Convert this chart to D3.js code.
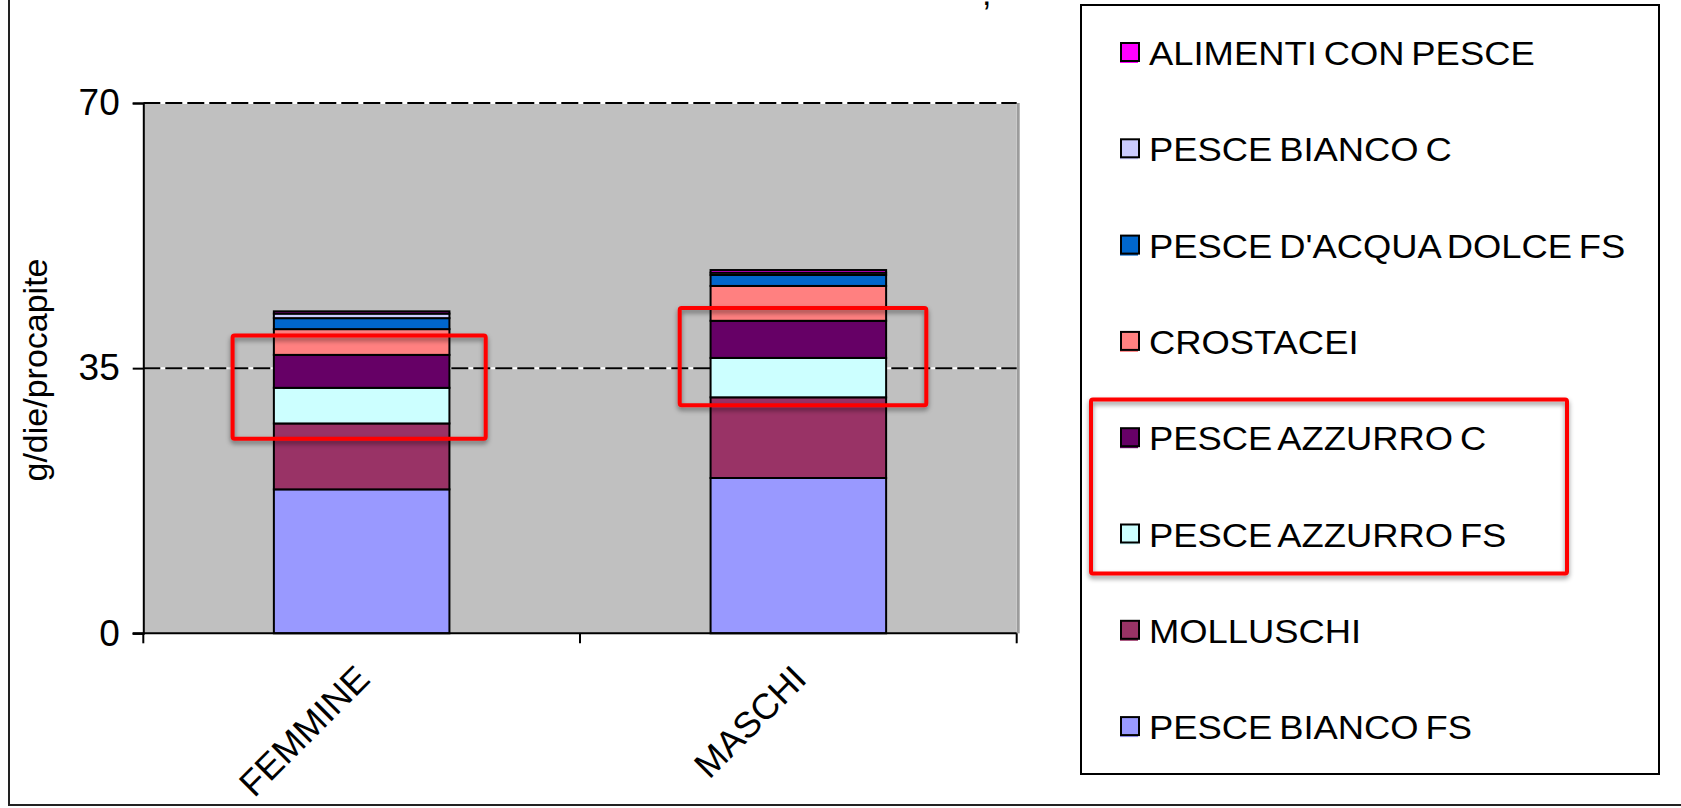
<!DOCTYPE html>
<html>
<head>
<meta charset="utf-8">
<script src="https://cdn.jsdelivr.net/npm/d3@7"></script>
<style>
  html, body { margin: 0; padding: 0; background: #ffffff; }
  svg { display: block; font-family: "Liberation Sans", Arial, sans-serif; }
</style>
</head>
<body>
<svg id="chart" width="1681" height="808"></svg>
<script>
// Categories on the x axis
const categories = ["FEMMINE", "MASCHI"];

// Series, stacked bottom to top (g/die/procapite)
const seriesNames = [
  "PESCE BIANCO FS",
  "MOLLUSCHI",
  "PESCE AZZURRO FS",
  "PESCE AZZURRO C",
  "CROSTACEI",
  "PESCE D'ACQUA DOLCE FS",
  "PESCE BIANCO C",
  "ALIMENTI CON PESCE"
];
const pesceBiancoFS      = [19.0, 20.5];
const molluschi          = [8.7, 10.65];
const pesceAzzurroFS     = [4.7, 5.2];
const pesceAzzurroC      = [4.35, 4.9];
const crostacei          = [3.4, 4.6];
const pesceAcquaDolceFS  = [1.45, 1.45];
const pesceBiancoC       = [0.6, 0.3];
const alimentiConPesce   = [0.3, 0.35];

const seriesColors = ["#9999ff", "#993366", "#ccffff", "#660066",
                      "#ff8080", "#0066cc", "#ccccff", "#ff00ff"];

const yTicks = [0, 35, 70];
const yTitle = "g/die/procapite";

// Build rows for d3.stack
const seriesValues = [pesceBiancoFS, molluschi, pesceAzzurroFS, pesceAzzurroC,
                      crostacei, pesceAcquaDolceFS, pesceBiancoC, alimentiConPesce];
const rows = categories.map((c, i) => {
  const r = { category: c };
  seriesNames.forEach((s, k) => { r[s] = seriesValues[k][i]; });
  return r;
});

const svg = d3.select("#chart");
const FONT = 34;

const plot = { left: 143.3, right: 1016.7, top: 103, bottom: 633.3 };

const x = d3.scaleBand()
  .domain(categories)
  .range([plot.left, plot.right])
  .paddingInner(0.598)
  .paddingOuter(0.299);

const y = d3.scaleLinear()
  .domain([0, 70])
  .range([plot.bottom, plot.top]);

const color = d3.scaleOrdinal().domain(seriesNames).range(seriesColors);

// Outer frame (left and bottom edges visible)
svg.append("path")
  .attr("d", `M9,0 V805 H1681`)
  .attr("fill", "none")
  .attr("stroke", "#222")
  .attr("stroke-width", 2);

// Plot area background + right-edge shadow
svg.append("rect")
  .attr("x", plot.right).attr("y", plot.top)
  .attr("width", 3).attr("height", plot.bottom - plot.top)
  .attr("fill", "#9c9c9c");
svg.append("rect")
  .attr("x", plot.left).attr("y", plot.top)
  .attr("width", plot.right - plot.left).attr("height", plot.bottom - plot.top)
  .attr("fill", "#c0c0c0");

// Horizontal gridlines (black dashes over white)
const grid = svg.append("g");
yTicks.filter(t => t > 0).forEach(t => {
  grid.append("line")
    .attr("x1", plot.left).attr("x2", plot.right)
    .attr("y1", y(t)).attr("y2", y(t))
    .attr("stroke", "#ffffff").attr("stroke-width", 2);
  grid.append("line")
    .attr("x1", plot.left).attr("x2", plot.right)
    .attr("y1", y(t)).attr("y2", y(t))
    .attr("stroke", "#000000").attr("stroke-width", 2)
    .attr("stroke-dasharray", "17,5");
});

// Stacked bars
const stacked = d3.stack().keys(seriesNames)(rows);
const barG = svg.append("g");
stacked.forEach(layer => {
  barG.append("g")
    .attr("fill", color(layer.key))
    .selectAll("rect")
    .data(layer)
    .join("rect")
      .attr("x", d => x(d.data.category))
      .attr("width", x.bandwidth())
      .attr("y", d => y(d[1]))
      .attr("height", d => y(d[0]) - y(d[1]))
      .attr("stroke", "#000")
      .attr("stroke-width", 2);
});

// Y axis
const yAxis = svg.append("g")
  .attr("transform", `translate(${plot.left},0)`)
  .call(d3.axisLeft(y).tickValues(yTicks).tickSize(10.6).tickPadding(13));
yAxis.select(".domain").attr("stroke", "#000").attr("stroke-width", 2);
yAxis.selectAll(".tick line").attr("stroke", "#000").attr("stroke-width", 2);
yAxis.selectAll(".tick text")
  .attr("font-size", 37)
  .attr("font-family", "'Liberation Sans', Arial, sans-serif")
  .attr("fill", "#000");

// X axis line with ticks at category boundaries
const xAxis = svg.append("g");
xAxis.append("line")
  .attr("x1", plot.left - 10.6).attr("x2", plot.right)
  .attr("y1", plot.bottom).attr("y2", plot.bottom)
  .attr("stroke", "#000").attr("stroke-width", 2);
d3.range(categories.length + 1).forEach(i => {
  const bx = x.range()[0] + i * x.step();
  xAxis.append("line")
    .attr("x1", bx).attr("x2", bx)
    .attr("y1", plot.bottom).attr("y2", plot.bottom + 10)
    .attr("stroke", "#000").attr("stroke-width", 2);
});

// Category labels, rotated
categories.forEach(c => {
  const cx = x(c) + x.bandwidth() / 2 + 10;
  svg.append("text")
    .attr("transform", `translate(${cx},681) rotate(-45)`)
    .attr("text-anchor", "end")
    .attr("font-size", 36)
    .attr("fill", "#000")
    .text(c);
});

// Y axis title
svg.append("text")
  .attr("transform", `translate(47,370) rotate(-90)`)
  .attr("text-anchor", "middle")
  .attr("font-size", FONT)
  .attr("fill", "#000")
  .text(yTitle);

// Trailing punctuation of the heading above the frame
svg.append("text")
  .attr("x", 982).attr("y", 5)
  .attr("font-size", FONT)
  .attr("fill", "#000")
  .text(",");

// Drop shadow for highlight boxes
const defs = svg.append("defs");
const f = defs.append("filter").attr("id", "boxShadow")
  .attr("x", "-10%").attr("y", "-10%").attr("width", "120%").attr("height", "130%");
f.append("feDropShadow")
  .attr("dx", 0).attr("dy", 3).attr("stdDeviation", 2.5)
  .attr("flood-color", "#000").attr("flood-opacity", 0.45);

// Highlight boxes around the blue-fish segments
const highlight = svg.append("g").attr("filter", "url(#boxShadow)");
[
  { x0: 232.6, y0: 335.6, x1: 485.7, y1: 438.7 },
  { x0: 679.7, y0: 308.0, x1: 926.3, y1: 405.2 }
].forEach(b => {
  highlight.append("rect")
    .attr("x", b.x0).attr("y", b.y0)
    .attr("width", b.x1 - b.x0).attr("height", b.y1 - b.y0)
    .attr("rx", 2)
    .attr("fill", "none")
    .attr("stroke", "#ff0000").attr("stroke-width", 4);
});

// Legend
const legend = svg.append("g");
legend.append("rect")
  .attr("x", 1081).attr("y", 5)
  .attr("width", 1659 - 1081).attr("height", 774 - 5)
  .attr("fill", "#fff")
  .attr("stroke", "#000").attr("stroke-width", 2);

const legendOrder = seriesNames.slice().reverse();
legendOrder.forEach((name, i) => {
  const cy = 53 + i * 96.3;
  const g = legend.append("g");
  g.append("rect")
    .attr("x", 1120).attr("y", cy - 8)
    .attr("width", 18).attr("height", 18)
    .attr("fill", color(name));
  g.append("rect")
    .attr("x", 1121).attr("y", cy - 10)
    .attr("width", 18).attr("height", 18)
    .attr("fill", color(name))
    .attr("stroke", "#000").attr("stroke-width", 2);
  g.append("text")
    .attr("transform", `translate(1149,${cy + 12}) scale(1.07,1)`)
    .attr("font-size", FONT)
    .attr("word-spacing", -3)
    .attr("fill", "#000")
    .text(name);
});

// Highlight box in the legend
svg.append("g").attr("filter", "url(#boxShadow)")
  .append("rect")
    .attr("x", 1091).attr("y", 399.5)
    .attr("width", 1567 - 1091).attr("height", 573.5 - 399.5)
    .attr("rx", 2)
    .attr("fill", "none")
    .attr("stroke", "#ff0000").attr("stroke-width", 4);
</script>
</body>
</html>
